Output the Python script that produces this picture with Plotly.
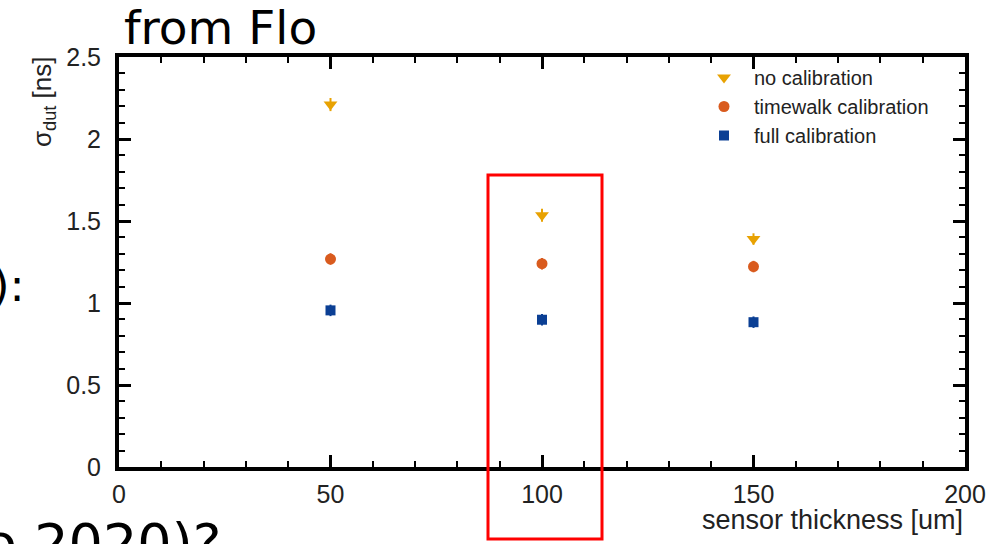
import plotly.graph_objects as go

# ---- data ----
thickness = [50, 100, 150]
no_cal = [2.21, 1.535, 1.39]
no_cal_err = [0.04, 0.04, 0.035]
timewalk = [1.268, 1.24, 1.222]
timewalk_err = [0.035, 0.035, 0.035]
full_cal = [0.955, 0.898, 0.883]
full_cal_err = [0.035, 0.035, 0.035]
series_names = ["no calibration", "timewalk calibration", "full calibration"]

W, H = 1006, 544
L, R, T, B = 119, 41, 57, 77
PW, PH = W - L - R, H - T - B


def pxx(px):
    return (px - L) / PW


def pxy(py):
    return (H - B - py) / PH


fig = go.Figure()
styles = [
    dict(symbol="triangle-down", color="#E8A202", size=12),
    dict(symbol="circle", color="#D95B1E", size=11),
    dict(symbol="square", color="#0B3F94", size=10),
]
for name, ys, err, st in zip(series_names,
                             [no_cal, timewalk, full_cal],
                             [no_cal_err, timewalk_err, full_cal_err],
                             styles):
    fig.add_trace(go.Scatter(
        x=thickness, y=ys, mode="markers", name=name,
        marker=dict(symbol=st["symbol"], color=st["color"], size=st["size"],
                    line=dict(width=0)),
        error_y=dict(type="data", array=err, visible=True,
                     color=st["color"], thickness=2, width=0),
    ))

axis_common = dict(
    showgrid=False, zeroline=False, showline=True, linecolor="black",
    linewidth=4, mirror="ticks", ticks="inside", ticklen=12, tickwidth=3,
    tickcolor="black",
    tickfont=dict(family="Liberation Sans, Arial, sans-serif", size=25,
                  color="#222"),
)

fig.update_xaxes(range=[0, 200], dtick=50, tick0=0,
                 minor=dict(dtick=10, ticks="inside", ticklen=6,
                            tickwidth=2, tickcolor="black"),
                 ticklabelstandoff=2,
                 **axis_common)
fig.update_yaxes(range=[0, 2.5], dtick=0.5, tick0=0,
                 minor=dict(dtick=0.1, ticks="inside", ticklen=6,
                            tickwidth=2, tickcolor="black"),
                 ticklabelstandoff=9,
                 **axis_common)

fig.update_layout(
    width=W, height=H,
    margin=dict(l=L, r=R, t=T, b=B, pad=0),
    paper_bgcolor="white", plot_bgcolor="white",
    showlegend=True,
    legend=dict(x=pxx(694), y=pxy(58), xanchor="left", yanchor="top",
                bgcolor="rgba(0,0,0,0)", itemwidth=50, tracegroupgap=0,
                font=dict(family="Liberation Sans, Arial, sans-serif",
                          size=20, color="#222")),
    font=dict(family="Liberation Sans, Arial, sans-serif", color="#222"),
)

# axis titles
fig.add_annotation(text="sensor thickness [um]", xref="paper", yref="paper",
                   x=1.0, y=pxy(520), xanchor="right", yanchor="middle",
                   showarrow=False,
                   font=dict(family="Liberation Sans, Arial, sans-serif",
                             size=27, color="#222"))
fig.add_annotation(text="σ<sub>dut</sub> [ns]", xref="paper", yref="paper",
                   x=pxx(43), y=pxy(102), xanchor="center", yanchor="middle",
                   textangle=-90, showarrow=False,
                   font=dict(family="Liberation Sans, Arial, sans-serif",
                             size=26, color="#222"))

# slide text fragments
fig.add_annotation(text="from Flo", xref="paper", yref="paper",
                   x=pxx(122), y=pxy(28), xanchor="left", yanchor="middle",
                   showarrow=False,
                   font=dict(family="DejaVu Sans, sans-serif", size=47,
                             color="black"))
fig.add_annotation(text="):", xref="paper", yref="paper",
                   x=pxx(27), y=pxy(285), xanchor="right", yanchor="middle",
                   showarrow=False,
                   font=dict(family="DejaVu Sans, sans-serif", size=45,
                             color="black"))
fig.add_annotation(text="o 2020)?", xref="paper", yref="paper",
                   x=pxx(-18), y=pxy(543), xanchor="left", yanchor="middle",
                   showarrow=False,
                   font=dict(family="DejaVu Sans, sans-serif", size=54,
                             color="black"))

# red highlight box
fig.add_shape(type="rect", xref="paper", yref="paper",
              x0=pxx(488), x1=pxx(602), y0=pxy(539), y1=pxy(175),
              line=dict(color="red", width=3), fillcolor="rgba(0,0,0,0)")

fig.write_html("out.html")
